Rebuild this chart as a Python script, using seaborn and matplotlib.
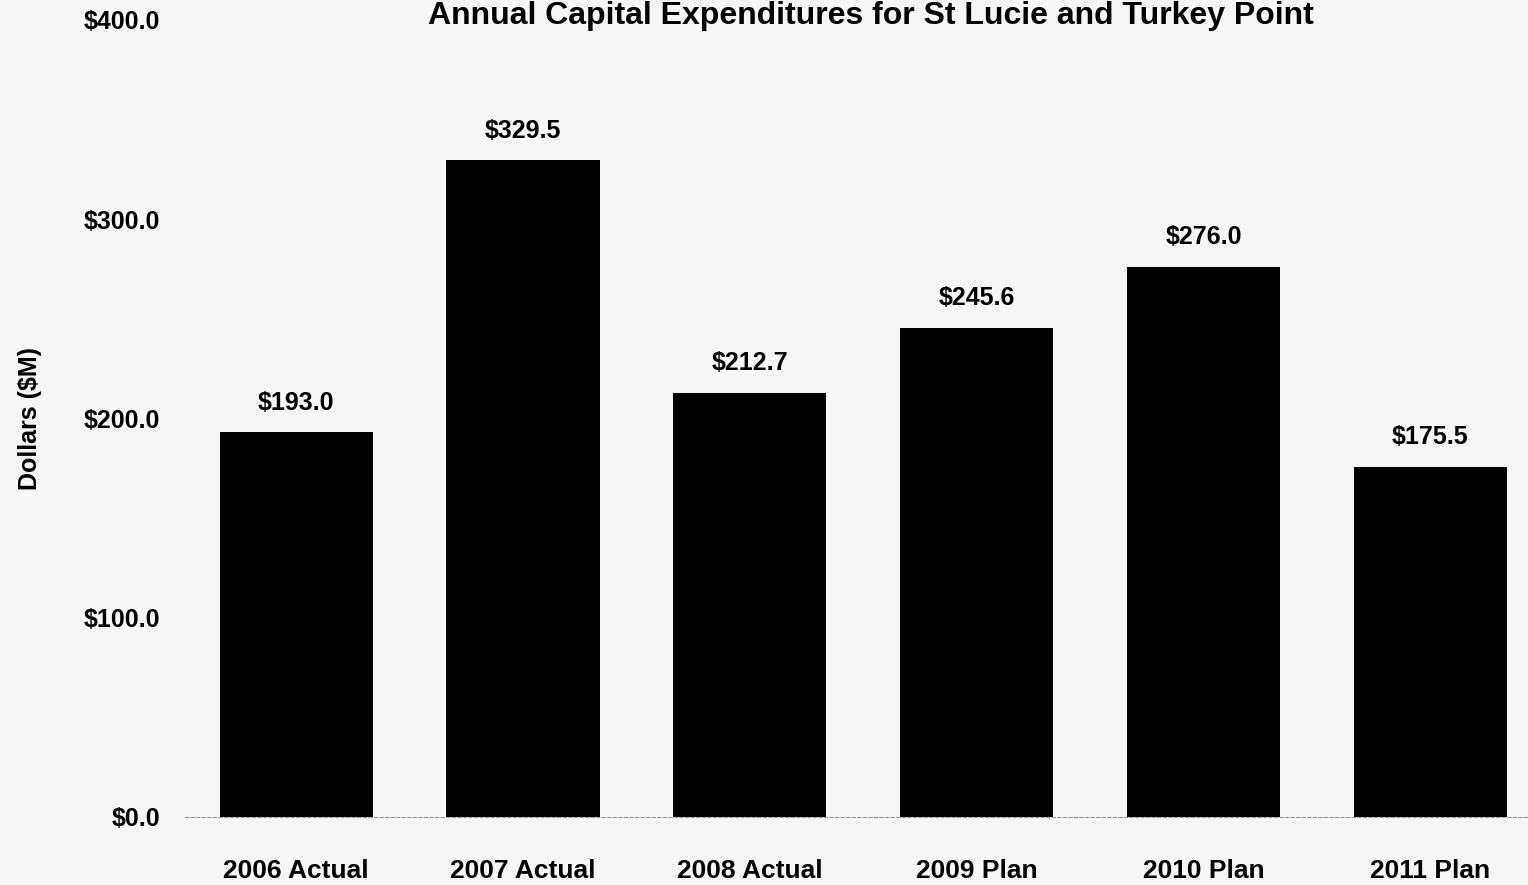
import matplotlib
matplotlib.use("Agg")
import matplotlib.pyplot as plt
import seaborn as sns
import pandas as pd

categories = ["2006 Actual", "2007 Actual", "2008 Actual", "2009 Plan", "2010 Plan", "2011 Plan"]
spend = [193.0, 329.5, 212.7, 245.6, 276.0, 175.5]
yticks = [0, 100, 200, 300, 400]
title = "Annual Capital Expenditures for St Lucie and Turkey Point"

sns.set_theme(style="white")
plt.rcParams["font.family"] = ["Liberation Sans", "DejaVu Sans"]
plt.rcParams["font.weight"] = "bold"
plt.rcParams["text.color"] = "black"
plt.rcParams["axes.labelcolor"] = "black"
plt.rcParams["xtick.color"] = "black"
plt.rcParams["ytick.color"] = "black"

bg = "#f6f6f6"
fig = plt.figure(figsize=(15.28, 8.85), dpi=100, facecolor=bg)
ax = fig.add_axes([185 / 1528, 68 / 885, 1 - 185 / 1528, 797 / 885])
ax.set_facecolor(bg)

df = pd.DataFrame({"cat": categories, "val": spend})
sns.barplot(data=df, x="cat", y="val", color="black", width=0.675,
            saturation=1, ax=ax, edgecolor="none")

ax.set_ylim(0, 400)
ax.set_xlim(-0.49, 5.43)
ax.set_yticks(yticks)
ax.set_yticklabels([f"${v:.1f}" for v in yticks], fontsize=18, fontweight="bold")
ax.tick_params(axis="y", length=4, width=0.6, color="#aaaaaa", labelcolor="black", pad=14)
ax.tick_params(axis="x", length=0, pad=30, labelsize=19, labelcolor="black")
for lab in ax.get_xticklabels():
    lab.set_fontweight("bold")

for s in ["top", "right", "left"]:
    ax.spines[s].set_visible(False)
ax.spines["bottom"].set_color("#9a9a9a")
ax.spines["bottom"].set_linewidth(0.8)
ax.spines["bottom"].set_linestyle((0, (3, 2)))

ax.set_xlabel("")
ax.set_ylabel("Dollars ($M)", fontsize=18, fontweight="bold", labelpad=30)

for i, v in enumerate(spend):
    ax.text(i, v + 9, f"${v:.1f}", ha="center", va="bottom", fontsize=18, fontweight="bold")

fig.text(0.57, 1 - 24 / 885, title, ha="center", va="baseline",
         fontsize=23, fontweight="bold")

fig.savefig("out.png", dpi=100, facecolor=bg)
